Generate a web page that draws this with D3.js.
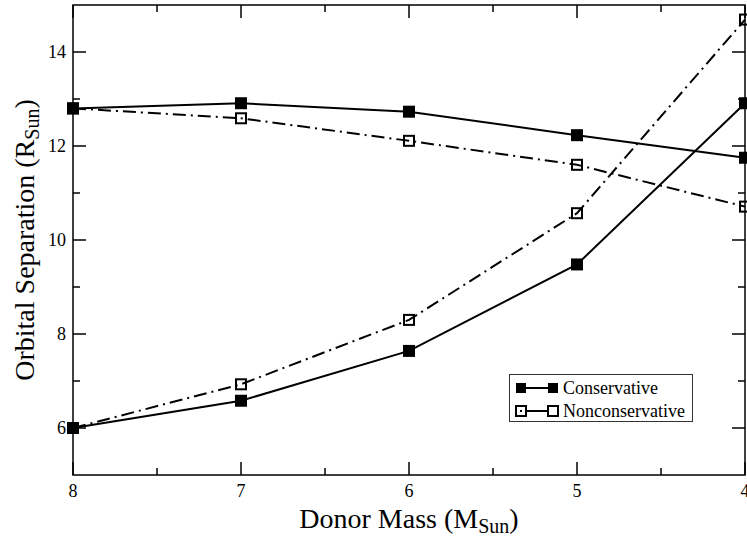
<!DOCTYPE html>
<html>
<head>
<meta charset="utf-8">
<script src="https://cdn.jsdelivr.net/npm/d3@7"></script>
<style>
    body { margin: 0; background: #fff; }
</style>
</head>
<body>
<div id="chart"></div>
<script>
    "use strict";
    //data
    var donorMass = [8, 7, 6, 5, 4];
    var consUpper = [12.8, 12.91, 12.73, 12.23, 11.75];
    var consLower = [6.0, 6.58, 7.64, 9.48, 12.91];
    var nonconsUpper = [12.8, 12.59, 12.11, 11.6, 10.71];
    var nonconsLower = [6.0, 6.93, 8.30, 10.57, 14.69];
    var xMajorTicks = [8, 7, 6, 5, 4];
    var xMinorTicks = [7.5, 6.5, 5.5, 4.5];
    var yMajorTicks = [6, 8, 10, 12, 14];
    var yMinorTicks = [7, 9, 11, 13];
    var legendLabels = ["Conservative", "Nonconservative"];

    var width = 747, height = 536;
    var plotLeft = 73, plotRight = 745, plotTop = 5, plotBottom = 475;
    var serif = "'Liberation Serif', 'Times New Roman', Times, serif";

    var svg = d3.select("#chart").append("svg")
        .attr("width", width)
        .attr("height", height)
        .attr("font-family", serif);

    var x = d3.scaleLinear().domain([8, 4]).range([plotLeft, plotRight]);
    var y = d3.scaleLinear().domain([5, 15]).range([plotBottom, plotTop]);

    var series = [
        {vals: consUpper, filled: true},
        {vals: consLower, filled: true},
        {vals: nonconsUpper, filled: false},
        {vals: nonconsLower, filled: false}
    ];

    //ticks inward on all four sides (grace style)
    var ticks = svg.append("g").attr("stroke", "#000").attr("stroke-width", 1.5);
    function xTicks(list, len) {
        list.forEach(function (v) {
            ticks.append("line").attr("x1", x(v)).attr("x2", x(v)).attr("y1", plotBottom).attr("y2", plotBottom - len);
            ticks.append("line").attr("x1", x(v)).attr("x2", x(v)).attr("y1", plotTop).attr("y2", plotTop + len);
        });
    }
    function yTicks(list, len) {
        list.forEach(function (v) {
            ticks.append("line").attr("y1", y(v)).attr("y2", y(v)).attr("x1", plotLeft).attr("x2", plotLeft + len);
            ticks.append("line").attr("y1", y(v)).attr("y2", y(v)).attr("x1", plotRight).attr("x2", plotRight - len);
        });
    }
    xTicks(xMajorTicks, 13);
    xTicks(xMinorTicks, 7);
    yTicks(yMajorTicks, 13);
    yTicks(yMinorTicks, 7);

    //tick labels
    svg.append("g").selectAll("text").data(xMajorTicks).enter().append("text")
        .attr("x", function (d) { return x(d); })
        .attr("y", 497)
        .attr("text-anchor", "middle")
        .attr("font-family", serif)
        .attr("font-size", "18px")
        .text(function (d) { return d; });

    svg.append("g").selectAll("text").data(yMajorTicks).enter().append("text")
        .attr("x", 66)
        .attr("y", function (d) { return y(d) + 6; })
        .attr("text-anchor", "end")
        .attr("font-family", serif)
        .attr("font-size", "18px")
        .text(function (d) { return d; });

    //axis titles
    var xt = svg.append("text")
        .attr("x", (plotLeft + plotRight) / 2)
        .attr("y", 528)
        .attr("text-anchor", "middle")
        .attr("font-family", serif)
        .attr("font-size", "28px");
    xt.append("tspan").text("Donor Mass (M");
    xt.append("tspan").attr("font-size", "20px").attr("dy", 5).text("Sun");
    xt.append("tspan").attr("dy", -5).text(")");

    var yt = svg.append("text")
        .attr("transform", "translate(34," + ((plotTop + plotBottom) / 2) + ") rotate(-90)")
        .attr("text-anchor", "middle")
        .attr("font-family", serif)
        .attr("font-size", "28px");
    yt.append("tspan").text("Orbital Separation (R");
    yt.append("tspan").attr("font-size", "20px").attr("dy", 5).text("Sun");
    yt.append("tspan").attr("dy", -5).text(")");

    //lines
    var line = d3.line()
        .x(function (d, i) { return x(donorMass[i]); })
        .y(function (d) { return y(d); });

    svg.append("g").selectAll("path").data(series).enter().append("path")
        .attr("d", function (d) { return line(d.vals); })
        .attr("fill", "none")
        .attr("stroke", "#000")
        .attr("stroke-width", 2)
        .attr("stroke-dasharray", function (d) { return d.filled ? null : "13,5,2,5"; });

    //markers
    var ms = 12;
    series.forEach(function (s) {
        svg.append("g").selectAll("rect").data(s.vals).enter().append("rect")
            .attr("x", function (d, i) { return x(donorMass[i]) - ms / 2; })
            .attr("y", function (d) { return y(d) - ms / 2; })
            .attr("width", s.filled ? ms : ms - 2)
            .attr("height", s.filled ? ms : ms - 2)
            .attr("transform", s.filled ? null : "translate(1,1)")
            .attr("fill", s.filled ? "#000" : "none")
            .attr("stroke", "#000")
            .attr("stroke-width", s.filled ? 0 : 2);
    });

    //frame
    svg.append("rect")
        .attr("x", plotLeft).attr("y", plotTop)
        .attr("width", plotRight - plotLeft).attr("height", plotBottom - plotTop)
        .attr("fill", "none")
        .attr("stroke", "#000")
        .attr("stroke-width", 1.5);

    //legend
    var lg = svg.append("g");
    lg.append("rect")
        .attr("x", 509.5).attr("y", 374.5)
        .attr("width", 183).attr("height", 47)
        .attr("fill", "#fff")
        .attr("stroke", "#333")
        .attr("stroke-width", 1);
    legendLabels.forEach(function (label, i) {
        var ly = 388 + i * 23;
        var filled = i === 0;
        lg.append("line")
            .attr("x1", 521).attr("x2", 553)
            .attr("y1", ly).attr("y2", ly)
            .attr("stroke", "#000").attr("stroke-width", 2);
        [521, 553].forEach(function (cx, j) {
            lg.append("rect")
                .attr("x", cx - 5).attr("y", ly - 5)
                .attr("width", 10).attr("height", 10)
                .attr("fill", filled ? "#000" : "#fff")
                .attr("stroke", "#000")
                .attr("stroke-width", filled ? 0 : 2);
            if (!filled && j === 0) {
                lg.append("rect").attr("x", cx - 1).attr("y", ly - 1)
                    .attr("width", 2).attr("height", 2).attr("fill", "#000");
            }
        });
        lg.append("text")
            .attr("x", 563)
            .attr("y", ly + 6)
            .attr("font-family", serif)
            .attr("font-size", "18px")
            .text(label);
    });
</script>
</body>
</html>
